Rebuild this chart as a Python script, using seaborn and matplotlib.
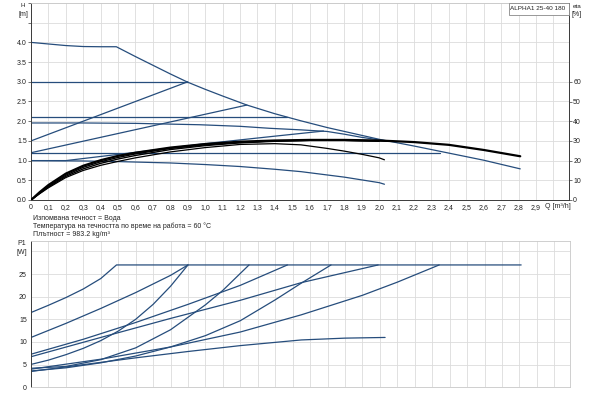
import numpy as np
import matplotlib
matplotlib.use("Agg")
import matplotlib.pyplot as plt
from matplotlib.patches import Rectangle
import seaborn as sns

# ---------------- data ----------------
# Head curves H [m] vs Q [m3/h]
max_q = [0, 0.1, 0.2, 0.3, 0.4, 0.49, 0.6, 0.7, 0.8, 0.9, 1.0, 1.1, 1.24, 1.4, 1.55, 1.7, 1.85, 2.0, 2.2, 2.4, 2.6, 2.81]
max_h = [4.0, 3.96, 3.92, 3.895, 3.89, 3.89, 3.64, 3.42, 3.2, 2.99, 2.81, 2.64, 2.41, 2.19, 2.01, 1.84, 1.69, 1.54, 1.37, 1.19, 1.01, 0.79]
cp3_q = [0, 0.9]
cp3_h = [3.0, 3.0]
cp2_q = [0, 1.47]
cp2_h = [2.1, 2.1]
cp1_q = [0, 2.35]
cp1_h = [1.2, 1.2]
pp3_q = [0, 0.9]
pp3_h = [1.5, 3.0]
pp2_q = [0, 1.24]
pp2_h = [1.2, 2.41]
pp1_q = [0, 0.2, 0.6, 1.0, 1.4, 1.68]
pp1_h = [1.0, 1.0, 1.21, 1.43, 1.62, 1.75]
c2_q = [0, 0.3, 0.6, 0.97, 1.2, 1.37, 1.55, 1.7, 1.8, 1.9, 2.04]
c2_h = [1.955, 1.955, 1.945, 1.91, 1.87, 1.82, 1.78, 1.74, 1.67, 1.59, 1.5]
c1_q = [0, 0.3, 0.5, 0.8, 1.0, 1.2, 1.4, 1.55, 1.8, 2.0, 2.03]
c1_h = [1.0, 0.99, 0.975, 0.94, 0.90, 0.85, 0.78, 0.72, 0.58, 0.44, 0.40]

# Efficiency curves eta [%]
etaA_q = [0, 0.05, 0.1, 0.2, 0.3, 0.4, 0.5, 0.6, 0.8, 1.0, 1.2, 1.4, 1.6, 1.8, 2.0, 2.2, 2.4, 2.6, 2.81]
etaA = [0, 4.0, 7.6, 13.4, 17.4, 20.2, 22.4, 24.0, 26.6, 28.4, 29.6, 30.2, 30.5, 30.5, 30.2, 29.4, 28.0, 25.4, 22.2]
etaB_q = [0, 0.05, 0.1, 0.2, 0.3, 0.4, 0.5, 0.6, 0.8, 1.0, 1.2, 1.4, 1.6, 1.8, 2.0, 2.05]
etaB = [0, 3.6, 7.0, 12.6, 16.6, 19.4, 21.6, 23.4, 26.2, 28.0, 29.2, 30.0, 30.3, 30.3, 30.0, 29.8]
etaC_q = [0, 0.05, 0.1, 0.2, 0.3, 0.4, 0.5, 0.6, 0.8, 1.0, 1.2, 1.4, 1.6, 1.8, 2.0]
etaC = [0, 3.4, 6.6, 12.0, 15.8, 18.6, 20.8, 22.6, 25.6, 27.6, 29.0, 29.8, 30.2, 30.2, 29.8]
etaD_q = [0, 0.05, 0.1, 0.2, 0.3, 0.4, 0.5, 0.6, 0.8, 1.0, 1.2, 1.4, 1.55, 1.7, 1.8, 1.9, 2.0, 2.03]
etaD = [0, 3.2, 6.2, 11.4, 15.0, 17.6, 19.6, 21.4, 24.4, 26.6, 28.2, 28.6, 28.0, 26.2, 24.8, 23.2, 21.4, 20.4]

# Power curves P1 [W]
pmax_q = [0, 0.1, 0.2, 0.3, 0.4, 0.49, 2.81]
pmax = [16.5, 18.1, 19.8, 21.7, 24.0, 27.0, 27.0]
pcp3_q = [0, 0.2, 0.4, 0.6, 0.8, 0.9]
pcp3 = [11.0, 14.1, 17.4, 20.9, 24.7, 27.0]
ppp3_q = [0, 0.1, 0.2, 0.3, 0.4, 0.5, 0.6, 0.7, 0.8, 0.9]
ppp3 = [5.05, 6.0, 7.2, 8.6, 10.3, 12.4, 15.0, 18.3, 22.3, 27.0]
ppp2_q = [0, 0.2, 0.4, 0.6, 0.8, 1.0, 1.1, 1.25]
ppp2 = [4.2, 4.6, 6.1, 8.7, 12.7, 18.2, 21.4, 27.0]
pcp2_q = [0, 0.3, 0.6, 0.9, 1.2, 1.47]
pcp2 = [7.3, 10.6, 14.3, 18.3, 22.5, 27.0]
pc2_q = [0, 0.4, 0.8, 1.2, 1.55, 1.99]
pc2 = [6.75, 11.0, 15.2, 19.2, 23.1, 27.0]
ppp1_q = [0, 0.2, 0.4, 0.6, 0.8, 1.0, 1.2, 1.4, 1.546, 1.72]
ppp1 = [3.6, 4.3, 5.4, 6.9, 8.9, 11.4, 14.7, 19.3, 22.9, 27.0]
pcp1_q = [0, 0.4, 0.8, 1.2, 1.55, 1.9, 2.1, 2.34]
pcp1 = [4.0, 6.2, 8.9, 12.2, 16.0, 20.3, 23.2, 27.0]
pc1_q = [0, 0.3, 0.6, 0.9, 1.2, 1.55, 1.8, 2.03]
pc1 = [3.5, 5.0, 6.5, 7.9, 9.2, 10.45, 10.85, 11.0]

q_ticks = [round(0.1 * i, 1) for i in range(30)]
q_labels = ["0"] + [f"{v:.1f}".replace(".", ",") for v in q_ticks[1:]]
h_ticks = [0.0, 0.5, 1.0, 1.5, 2.0, 2.5, 3.0, 3.5, 4.0]
h_labels = [f"{v:.1f}" for v in h_ticks]
eta_ticks = [0, 10, 20, 30, 40, 50, 60]
p_ticks = [0, 5, 10, 15, 20, 25, 30]
p_labels = ["0", "5", "10", "15", "20", "25", "[W]"]
notes = ["Изпомвана течност = Вода",
         "Температура на течността по време на работа = 60 °C",
         "Плътност = 983.2 kg/m³"]
title_box = "ALPHA1 25-40 180"

# ---------------- styling ----------------
sns.set_theme(style="white")
plt.rcParams['font.family'] = ['Liberation Sans', 'DejaVu Sans']
BLUE = "#264d7c"
BLACK = "#000000"
GRID = "#dcdcdc"
DARK = "#3a3a3a"
FS = 5

fig = plt.figure(figsize=(6, 4), dpi=100)
ax = fig.add_axes([31 / 600, 0.5, 538 / 600, 197 / 400])
axp = fig.add_axes([31 / 600, 1 - 387.3 / 400, 539 / 600, 146.6 / 400])

XMAX = 3.09

# ---------------- top chart ----------------
for qq, hh in [(max_q, max_h), (cp3_q, cp3_h), (cp2_q, cp2_h), (cp1_q, cp1_h),
               (pp3_q, pp3_h), (pp2_q, pp2_h), (pp1_q, pp1_h), (c2_q, c2_h), (c1_q, c1_h)]:
    sns.lineplot(x=qq, y=hh, ax=ax, color=BLUE, linewidth=0.9, estimator=None, sort=False)

ax.set_xlim(0, XMAX)
ax.set_ylim(0, 5)
ax.set_xticks(q_ticks + [3.0])
ax.set_xticklabels(q_labels + [""], fontsize=FS)
ax.set_yticks(h_ticks + [4.5, 5.0])
ax.set_yticklabels(h_labels + ["", ""], fontsize=FS)
ax.grid(True, color=GRID, linewidth=0.6)
ax.tick_params(axis='both', length=2, width=0.5, pad=1, colors=DARK, labelcolor="#222")
ax.set_xlabel("")
ax.set_ylabel("")
for s in ["top", "right"]:
    ax.spines[s].set_color("#c8c8c8")
    ax.spines[s].set_linewidth(0.6)
for s in ["left", "bottom"]:
    ax.spines[s].set_color(DARK)
    ax.spines[s].set_linewidth(0.7)

ax2 = ax.twinx()
sns.lineplot(x=etaD_q, y=etaD, ax=ax2, color=BLACK, linewidth=0.9, estimator=None, sort=False)
sns.lineplot(x=etaC_q, y=etaC, ax=ax2, color=BLACK, linewidth=1.0, estimator=None, sort=False)
sns.lineplot(x=etaB_q, y=etaB, ax=ax2, color=BLACK, linewidth=1.0, estimator=None, sort=False)
sns.lineplot(x=etaA_q, y=etaA, ax=ax2, color=BLACK, linewidth=1.6, estimator=None, sort=False)
ax2.set_ylim(0, 100)
ax2.set_xlim(0, XMAX)
ax2.set_yticks(eta_ticks)
ax2.set_yticklabels([str(v) for v in eta_ticks], fontsize=FS)
ax2.tick_params(axis='y', length=2, width=0.5, pad=1, colors=DARK, labelcolor="#222")
ax2.set_ylabel("")
ax2.grid(False)
for s in ["top", "left", "bottom"]:
    ax2.spines[s].set_visible(False)
ax2.spines["right"].set_color(DARK)
ax2.spines["right"].set_linewidth(0.7)

# axis captions
fig.text(23 / 600, 1 - 5.5 / 400, "H", fontsize=4.5, ha='center', va='center', color="#222")
fig.text(23 / 600, 1 - 14 / 400, "[m]", fontsize=FS, ha='center', va='center', color="#222")
fig.text(577 / 600, 1 - 6 / 400, "eta", fontsize=4.5, ha='center', va='center', color="#222")
fig.text(577 / 600, 1 - 14 / 400, "[%]", fontsize=FS, ha='center', va='center', color="#222")
fig.text(558 / 600, 1 - 207 / 400, "Q [m³/h]", fontsize=FS, ha='center', va='center', color="#222")

# model box
fig.patches.append(Rectangle((509 / 600, 1 - 14.5 / 400), 60 / 600, 11.5 / 400,
                             transform=fig.transFigure, facecolor="white",
                             edgecolor="#888888", linewidth=0.6, zorder=5))
fig.text(538 / 600, 1 - 8.5 / 400, title_box, fontsize=4.6, ha='center', va='center',
         color="#222", zorder=6)

# notes
for i, t in enumerate(notes):
    fig.text(33 / 600, 1 - (219 + 7.5 * i) / 400, t, fontsize=FS, ha='left', va='center', color="#222")

# ---------------- bottom chart ----------------
for qq, pp in [(pmax_q, pmax), (pcp3_q, pcp3), (ppp3_q, ppp3), (ppp2_q, ppp2), (pcp2_q, pcp2),
               (pc2_q, pc2), (ppp1_q, ppp1), (pcp1_q, pcp1), (pc1_q, pc1)]:
    sns.lineplot(x=qq, y=pp, ax=axp, color=BLUE, linewidth=0.9, estimator=None, sort=False)

axp.set_xlim(0, XMAX)
axp.set_ylim(0, 32.35)
axp.set_xticks(q_ticks + [3.0])
axp.set_xticklabels([])
axp.set_yticks(p_ticks)
axp.set_yticklabels(p_labels, fontsize=FS)
axp.grid(True, color=GRID, linewidth=0.6)
axp.tick_params(axis='y', length=2, width=0.5, pad=1, colors=DARK, labelcolor="#222")
axp.tick_params(axis='x', length=0)
axp.set_xlabel("")
axp.set_ylabel("")
for s in ["top", "right", "bottom"]:
    axp.spines[s].set_color("#c8c8c8")
    axp.spines[s].set_linewidth(0.6)
axp.spines["left"].set_color(DARK)
axp.spines["left"].set_linewidth(0.7)
fig.text(22 / 600, 1 - 243.5 / 400, "P1", fontsize=FS, ha='center', va='center', color="#222")

fig.savefig("out.png", dpi=100)
